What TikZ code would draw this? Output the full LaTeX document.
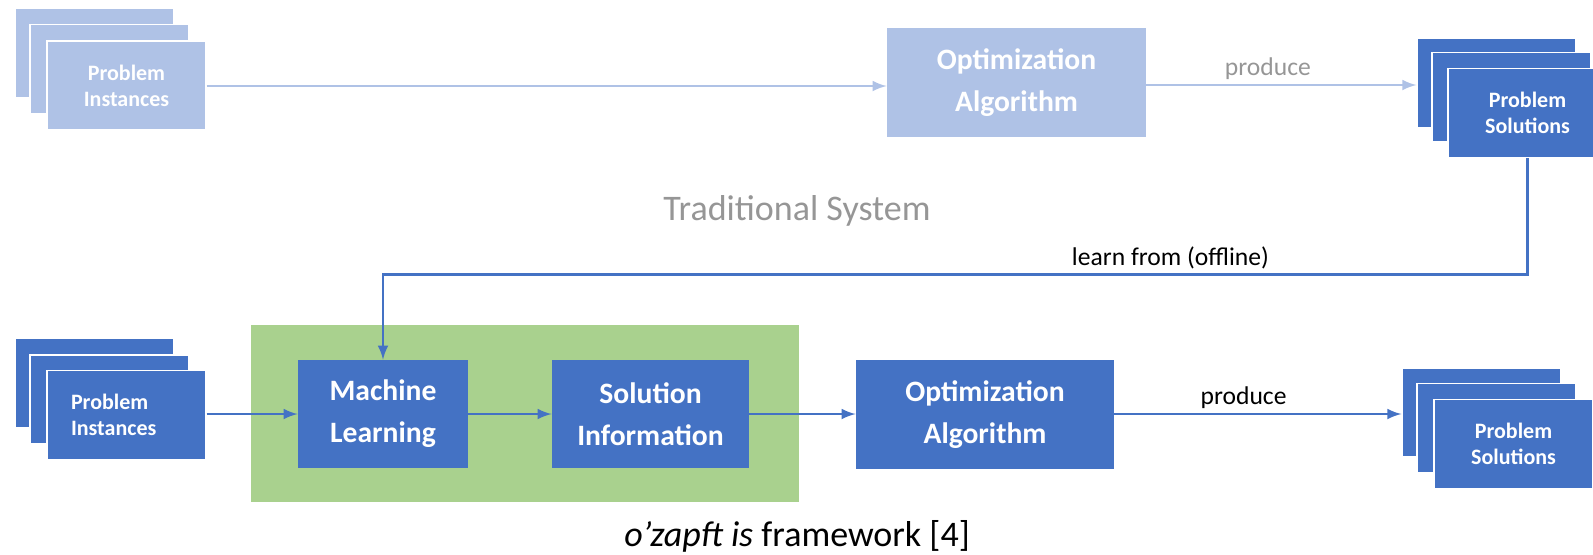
\documentclass[tikz,border=0pt]{standalone}
\usepackage{fontspec}
\setmainfont{Carlito}
\usepackage{tikz}
\usetikzlibrary{positioning,arrows}

\definecolor{darkblue}{HTML}{4472C4}
\definecolor{paleblue}{HTML}{AFC2E6}
\definecolor{palegreen}{HTML}{A9D18E}
\definecolor{labelgray}{RGB}{150,150,150}

\begin{document}
\begin{tikzpicture}[
			      x=0.5pt, y=-0.5pt,
			      flow/.style={draw=darkblue, -latex, line width=1.4pt},
			      paleflow/.style={draw=paleblue, -latex, line width=1.4pt},
			      box/.style={
					      fill=darkblue,
					      text=white,
					      align=center,
					      inner sep=0pt,
					      font=\fontsize{14.8}{21}\selectfont\bfseries
				      },
			      stack/.style={
					      fill=darkblue,
					      draw=white,
					      line width=0.6pt,
					      text=white,
					      align=center,
					      inner sep=0pt,
					      minimum width=79.5pt,
					      minimum height=44.5pt,
					      font=\fontsize{11}{13}\selectfont\bfseries
				      },
			      pale/.style={fill=paleblue},
			      tag/.style={font=\fontsize{12.8}{15}\selectfont, inner sep=2pt}
		      ]
		      \useasboundingbox (0,0) rectangle (1593,554);

		      \node[fill=palegreen, minimum width=274pt, minimum height=88.5pt] (frame) at (525,413.5) {};

		      \node[stack, pale] (topinstA) at (94.5,53) {};
		      \node[stack, pale, below right=8pt and 7.5pt of topinstA.north west, anchor=north west] (topinstB) {};
		      \node[stack, pale, below right=8.25pt and 8.5pt of topinstB.north west, anchor=north west] (topinstC) {Problem\\Instances};

		      \node[box, pale, minimum width=129.5pt, minimum height=54.5pt] (topopt) at (1016.5,82.5) {Optimization\\Algorithm};

		      \node[stack] (topsolA) at (1496.5,83) {};
		      \node[stack, below right=7pt and 7.5pt of topsolA.north west, anchor=north west] (topsolB) {};
		      \node[stack, below right=8pt and 8pt of topsolB.north west, anchor=north west] (topsolC) {Problem\\Solutions};

		      \node[font=\fontsize{18}{21}\selectfont, text=labelgray] (tradlabel) at (797,211) {Traditional System};

		      \node[stack] (botinstA) at (94.5,383) {};
		      \node[stack, below right=8.25pt and 7.5pt of botinstA.north west, anchor=north west] (botinstB) {};
		      \node[stack, below right=7.75pt and 8.5pt of botinstB.north west, anchor=north west,
			      align=left, text width=55.5pt, inner xsep=12pt] (botinstC) {Problem\\Instances};

		      \node[box, minimum width=85pt, minimum height=54pt] (ml) at (383,414) {Machine\\Learning};
		      \node[box, minimum width=98.5pt, minimum height=54pt] (si) at (650.5,414) {Solution\\Information};
		      \node[box, minimum width=129pt, minimum height=54.5pt] (botopt) at (985,414.5) {Optimization\\Algorithm};

		      \node[stack] (botsolA) at (1481.5,412.5) {};
		      \node[stack, below right=7.75pt and 7.5pt of botsolA.north west, anchor=north west] (botsolB) {};
		      \node[stack, below right=8pt and 8.5pt of botsolB.north west, anchor=north west] (botsolC) {Problem\\Solutions};

		      \node[font=\fontsize{18}{21}\selectfont] (caption) at (797,536) {\textit{o’zapft is} framework [4]};

		      \draw[paleflow] (topinstC.east |- 0,86) -- (topopt.west |- 0,86);
		      \draw[paleflow] (topopt.east |- 0,85) -- node[tag, text=labelgray, above, pos=0.45] {produce} (topsolA.west |- 0,85);
		      \draw[flow] (topsolC.south) -- ++(0,116) -| node[tag, above, pos=0.156] {learn from (offline)} (ml.north);

		      \draw[flow] (botinstC.east |- 0,414) -- (ml.west);
		      \draw[flow] (ml) -- (si);
		      \draw[flow] (si) -- (botopt.west |- si);
		      \draw[flow] (botopt.east |- 0,414) -- node[tag, above, pos=0.45] {produce} (botsolA.west |- 0,414);
	      \end{tikzpicture}
\end{document}
